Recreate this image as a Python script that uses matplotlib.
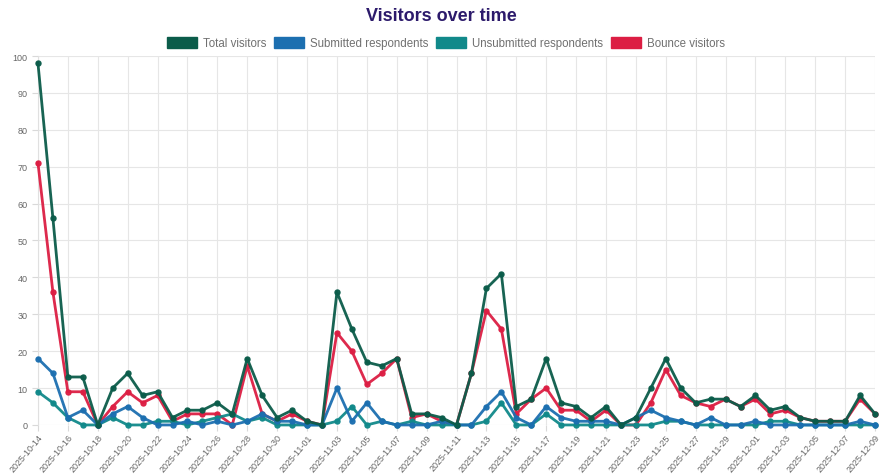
import matplotlib
matplotlib.use("Agg")
import matplotlib.pyplot as plt
from matplotlib.patches import Patch
import numpy as np
import pandas as pd

# Daily visitor counts, 2025-10-14 .. 2025-12-09
dates = pd.date_range("2025-10-14", "2025-12-09", freq="D")

total = [98, 56, 13, 13, 0, 10, 14, 8, 9, 2, 4, 4, 6, 3, 18, 8, 2, 4,
         1, 0, 36, 26, 17, 16, 18, 3, 3, 2, 0, 14, 37, 41, 5, 7, 18, 6,
         5, 2, 5, 0, 2, 10, 18, 10, 6, 7, 7, 5,
         8, 4, 5, 2, 1, 1, 1, 8, 3]
submitted = [18, 14, 2, 4, 0, 3, 5, 2, 0, 0, 1, 0, 1, 0, 1, 3, 1, 1,
             0, 0, 10, 1, 6, 1, 0, 0, 0, 1, 0, 0, 5, 9, 2, 0, 5, 2,
             1, 1, 1, 0, 2, 4, 2, 1, 0, 2, 0, 0,
             1, 0, 0, 0, 0, 0, 0, 1, 0]
unsubmitted = [9, 6, 2, 0, 0, 2, 0, 0, 1, 1, 0, 1, 2, 3, 1, 2, 0, 0,
               0, 0, 1, 5, 0, 1, 0, 1, 0, 0, 0, 0, 1, 6, 0, 0, 3, 0,
               0, 0, 0, 0, 0, 0, 1, 1, 0, 0, 0, 0,
               0, 1, 1, 0, 0, 0, 0, 0, 0]
bounce = [71, 36, 9, 9, 0, 5, 9, 6, 8, 1, 3, 3, 3, 0, 16, 3, 1, 3,
          1, 0, 25, 20, 11, 14, 18, 2, 3, 1, 0, 14, 31, 26, 3, 7, 10, 4,
          4, 1, 4, 0, 0, 6, 15, 8, 6, 5, 7, 5,
          7, 3, 4, 2, 1, 1, 1, 7, 3]

series = [
    ("Total visitors", total, "#0b5c4a"),
    ("Submitted respondents", submitted, "#1c6fb0"),
    ("Unsubmitted respondents", unsubmitted, "#11898a"),
    ("Bounce visitors", bounce, "#dc1e43"),
]

plt.rcParams["font.family"] = ["Liberation Sans", "DejaVu Sans"]

fig = plt.figure(figsize=(8.83, 4.77), dpi=100)
ax = fig.add_axes([0.043, 0.107, 0.948, 0.7735])

x = np.arange(len(dates))
# first dataset sits on top, like the web chart
for z, (name, vals, col) in enumerate(series):
    ax.plot(x, vals, color=col, linewidth=2, marker="o", markersize=3.6,
            zorder=10 - z, clip_on=False, alpha=0.95)

ax.set_xlim(0, len(dates) - 1)
ax.set_ylim(0, 100)
ax.set_yticks(range(0, 101, 10))
ax.set_xticks(x[::2])
ax.set_xticklabels([d.strftime("%Y-%m-%d") for d in dates[::2]],
                   rotation=50, ha="right", rotation_mode="anchor")
ax.tick_params(axis="both", colors="#d9d9d9", labelcolor="#666666",
               labelsize=6.5, length=4, width=0.8)
ax.tick_params(axis="x", pad=1.5)
ax.grid(color="#e6e6e6", linewidth=0.8)
ax.set_axisbelow(True)
for side in ["top", "right", "bottom"]:
    ax.spines[side].set_visible(False)
ax.spines["left"].set_color("#e0e0e0")

fig.text(0.5, 0.965, "Visitors over time", ha="center", va="center",
         fontsize=13, fontweight="bold", color="#2c1a6b")

handles = [Patch(facecolor=col, edgecolor=col, label=name)
           for name, _, col in series]
fig.legend(handles=handles, loc="center", bbox_to_anchor=(0.505, 0.907),
           ncol=4, frameon=False, fontsize=8.3, labelcolor="#707070",
           handlelength=2.6, handleheight=1.0, handletextpad=0.5,
           columnspacing=0.7)

fig.savefig("out.png", dpi=100)
